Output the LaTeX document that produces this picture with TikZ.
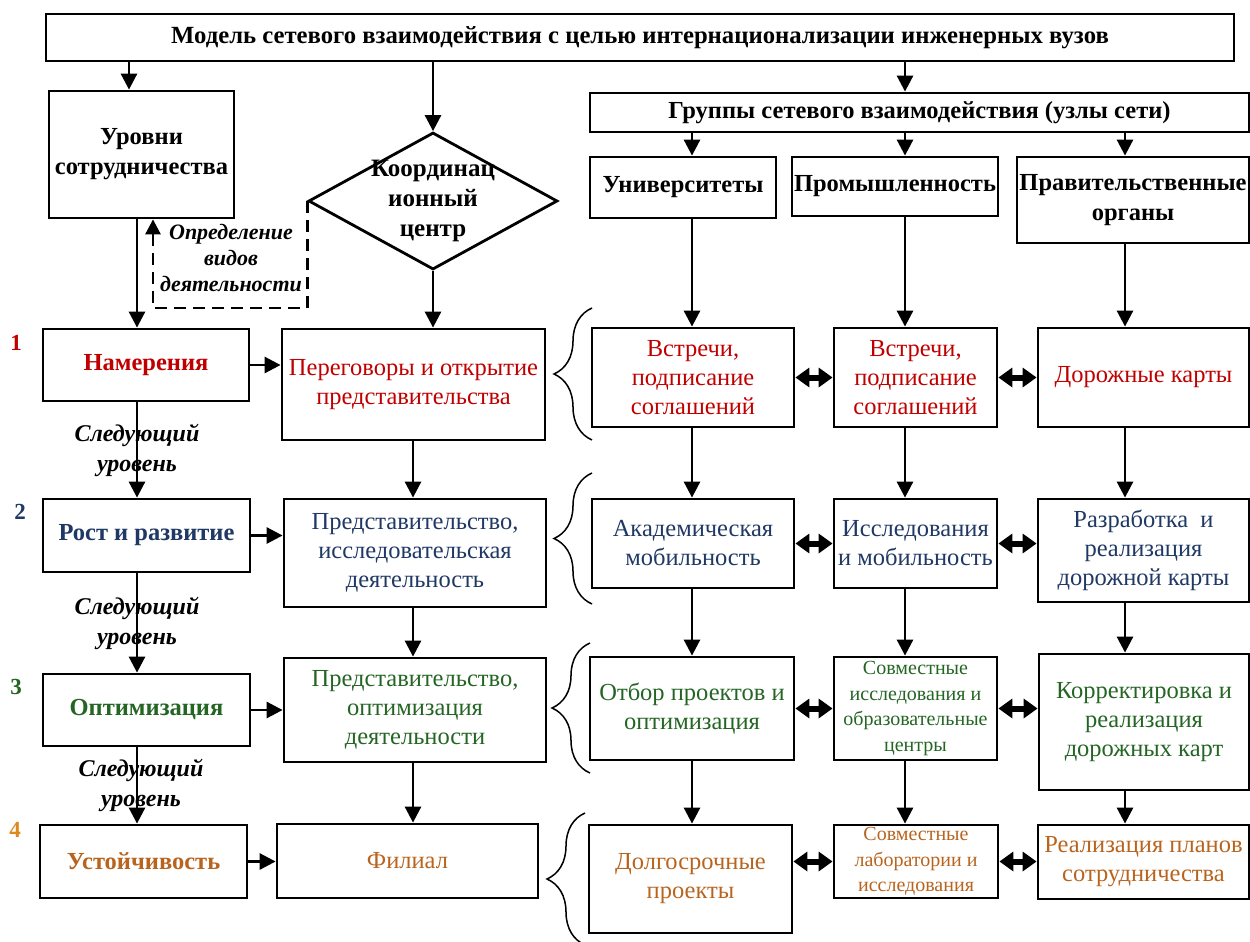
\documentclass[tikz,border=0pt]{standalone}
\usepackage{fontspec}
\setmainfont{Liberation Serif}
\usetikzlibrary{arrows.meta,shapes.geometric,decorations.pathreplacing}
\definecolor{lvlred}{HTML}{C00000}
\definecolor{lvlblue}{HTML}{1F3864}
\definecolor{lvlgreen}{HTML}{246524}
\definecolor{lvlbrown}{HTML}{B8641E}
\definecolor{lvlorange}{HTML}{DC8A1E}
\begin{document}
\begin{tikzpicture}[x=1pt,y=-1pt,
  wh/.style 2 args={minimum width=#1pt,minimum height=#2pt},
  box/.style={draw=black,line width=2.8pt,inner sep=0pt,align=center,font=\fontsize{24.5}{29}\selectfont},
  hdr/.style={box,font=\fontsize{24.5}{30}\selectfont\bfseries},
  small/.style={box,font=\fontsize{20}{25.5}\selectfont},
  arr/.style={line width=2.8pt,-{Triangle[length=16pt,width=16pt]}},
  darr/.style={line width=6pt,{Triangle[length=14pt,width=19pt]}-{Triangle[length=14pt,width=19pt]}},
  note/.style={font=\fontsize{24}{30}\selectfont\bfseries\itshape,align=center,inner sep=0pt},
  num/.style={font=\fontsize{23}{26}\selectfont\bfseries,inner sep=0pt},
  grp/.style={decorate,decoration={brace,amplitude=38pt},line width=1.5pt}]
\useasboundingbox (0,0) rectangle (1250,942);
% top part
\node [hdr,wh={1188}{47},font=\fontsize{24.7}{30}\selectfont\bfseries] (title) at (640,37.5) {Модель сетевого взаимодействия с целью интернационализации инженерных вузов};
\node [hdr,wh={185}{127}] (levels) at (141.5,154.5) {Уровни\\сотрудничества};
\node [draw=black,line width=2.8pt,diamond,inner sep=-30pt,wh={249}{137},align=center,font=\fontsize{25}{30}\selectfont\bfseries] (coord) at (433,201) {Координац\\ионный\\центр};
\node [hdr,wh={659}{39}] (groups) at (919.5,112.5) {Группы сетевого взаимодействия (узлы сети)};
\node [hdr,wh={186}{61}] (univ) at (683,187.5) {Университеты};
\node [hdr,wh={206}{59}] (prom) at (895,186.5) {Промышленность};
\node [hdr,wh={232}{86},inner xsep=-8pt] (gov) at (1133,200) {Правительственные\\органы};
\node [note,font=\fontsize{22}{26}\selectfont\bfseries\itshape] (actlbl) at (231,258) {Определение\\видов\\деятельности};
% level numbers
\node [num,text=lvlred] (n1) at (16,343) {1};
\node [num,text=lvlblue] (n2) at (20,512) {2};
\node [num,text=lvlgreen] (n3) at (16,687) {3};
\node [num,text=lvlorange] (n4) at (15,830) {4};
% row 1
\node [hdr,wh={206}{72},text=lvlred] (nam) at (146,365) {Намерения};
\node [box,wh={263}{111},text=lvlred,inner xsep=-6pt] (per) at (413.5,384.5) {Переговоры и открытие\\представительства};
\node [box,wh={202}{99},text=lvlred] (vst1) at (693,377.5) {Встречи,\\подписание\\соглашений};
\node [box,wh={163}{99},text=lvlred] (vst2) at (915.5,377.5) {Встречи,\\подписание\\соглашений};
\node [box,wh={211}{99},text=lvlred] (road) at (1143.5,377.5) {Дорожные карты};
% row 2
\node [hdr,wh={207}{73},text=lvlblue] (rost) at (146.5,535.5) {Рост и развитие};
\node [box,wh={262}{108},text=lvlblue] (pred) at (415,553) {Представительство,\\исследовательская\\деятельность};
\node [box,wh={202}{89},text=lvlblue] (acad) at (693,543.5) {Академическая\\мобильность};
\node [box,wh={163}{89},text=lvlblue,inner xsep=-6pt] (isl) at (915.5,543.5) {Исследования\\и мобильность};
\node [box,wh={211}{103},text=lvlblue] (razr) at (1143.5,550.5) {Разработка~ и\\реализация\\дорожной карты};
% row 3
\node [hdr,wh={207}{72},text=lvlgreen] (opt) at (146.5,710) {Оптимизация};
\node [box,wh={262}{104},text=lvlgreen] (predopt) at (415,710) {Представительство,\\оптимизация\\деятельности};
\node [box,wh={204}{103},text=lvlgreen,inner xsep=-6pt] (otb) at (692,708.5) {Отбор проектов и\\оптимизация};
\node [small,wh={163}{103},text=lvlgreen,inner xsep=-6pt] (sovm) at (915.5,708.5) {Совместные\\исследования и\\образовательные\\центры};
\node [box,wh={210}{136},text=lvlgreen] (korr) at (1144,722) {Корректировка и\\реализация\\дорожных карт};
% row 4
\node [hdr,wh={207}{73},text=lvlbrown] (ust) at (143.5,861.5) {Устойчивость};
\node [box,wh={261}{74},text=lvlbrown] (fil) at (407.5,861) {Филиал};
\node [box,wh={203}{108},text=lvlbrown] (dolg) at (690.5,879) {Долгосрочные\\проекты};
\node [small,wh={164}{73},text=lvlbrown] (lab) at (916,861.5) {Совместные\\лаборатории и\\исследования};
\node [box,wh={211}{74},text=lvlbrown,inner xsep=-6pt] (real) at (1143.5,862) {Реализация планов\\сотрудничества};
% column lines
\coordinate (colT) at (129,0);
\coordinate (colL) at (137,0);
\coordinate (colC) at (413,0);
\coordinate (colU) at (692,0);
\coordinate (colP) at (905,0);
\coordinate (colG) at (1125,0);
\coordinate (dcorner) at (153,308);
% arrows from the top
\draw [arr] (title.south -| colT) -- (levels.north -| colT);
\draw [arr] (title.south -| coord.north) -- (coord.north);
\draw [arr] (title.south -| colP) -- (groups.north -| colP);
\draw [arr] (groups.south -| colU) -- (univ.north -| colU);
\draw [arr] (groups.south -| colP) -- (prom.north -| colP);
\draw [arr] (groups.south -| colG) -- (gov.north -| colG);
\draw [line width=2.8pt,dash pattern=on 12pt off 7pt,-{Triangle[length=15pt,width=15pt]}] (coord.west) |- (dcorner) -- (dcorner |- levels.south);
% left column
\draw [arr] (levels.south -| colL) -- (nam.north -| colL);
\draw [arr] (nam.south -| colL) -- node [note] (next1) {Следующий\\уровень} (rost.north -| colL);
\draw [arr] (rost.south -| colL) -- node [note] (next2) {Следующий\\уровень} (opt.north -| colL);
\draw [arr] (opt.south -| colL) -- node [note,xshift=4pt] (next3) {Следующий\\уровень} (ust.north -| colL);
\draw [arr] (nam.east) -- (nam.east -| per.west);
\draw [arr] (rost.east) -- (rost.east -| pred.west);
\draw [arr] (opt.east) -- (opt.east -| predopt.west);
\draw [arr] (ust.east) -- (ust.east -| fil.west);
% centre column
\draw [arr] (coord.south) -- (coord.south |- per.north);
\draw [arr] (per.south -| colC) -- (pred.north -| colC);
\draw [arr] (pred.south -| colC) -- (predopt.north -| colC);
\draw [arr] (predopt.south -| colC) -- (fil.north -| colC);
% network columns
\draw [arr] (univ.south -| colU) -- (vst1.north -| colU);
\draw [arr] (vst1.south -| colU) -- (acad.north -| colU);
\draw [arr] (acad.south -| colU) -- (otb.north -| colU);
\draw [arr] (otb.south -| colU) -- (dolg.north -| colU);
\draw [arr] (prom.south -| colP) -- (vst2.north -| colP);
\draw [arr] (vst2.south -| colP) -- (isl.north -| colP);
\draw [arr] (isl.south -| colP) -- (sovm.north -| colP);
\draw [arr] (sovm.south -| colP) -- (lab.north -| colP);
\draw [arr] (gov.south -| colG) -- (road.north -| colG);
\draw [arr] (road.south -| colG) -- (razr.north -| colG);
\draw [arr] (razr.south -| colG) -- (korr.north -| colG);
\draw [arr] (korr.south -| colG) -- (real.north -| colG);
% links between groups
\draw [darr] (vst1.east) -- (vst1.east -| vst2.west);
\draw [darr] (vst2.east) -- (vst2.east -| road.west);
\draw [darr] (acad.east) -- (acad.east -| isl.west);
\draw [darr] (isl.east) -- (isl.east -| razr.west);
\draw [darr] (otb.east) -- (otb.east -| sovm.west);
\draw [darr] (sovm.east) -- (sovm.east -| korr.west);
\draw [darr] (lab.west -| dolg.east) -- (lab.west);
\draw [darr] (lab.east) -- (lab.east -| real.west);
% braces
\draw [grp] (592,440) -- (592,308);
\draw [grp] (592,604) -- (592,473);
\draw [grp] (590,773) -- (590,643);
\draw [grp] (585,945) -- (585,813);
\end{tikzpicture}
\end{document}
